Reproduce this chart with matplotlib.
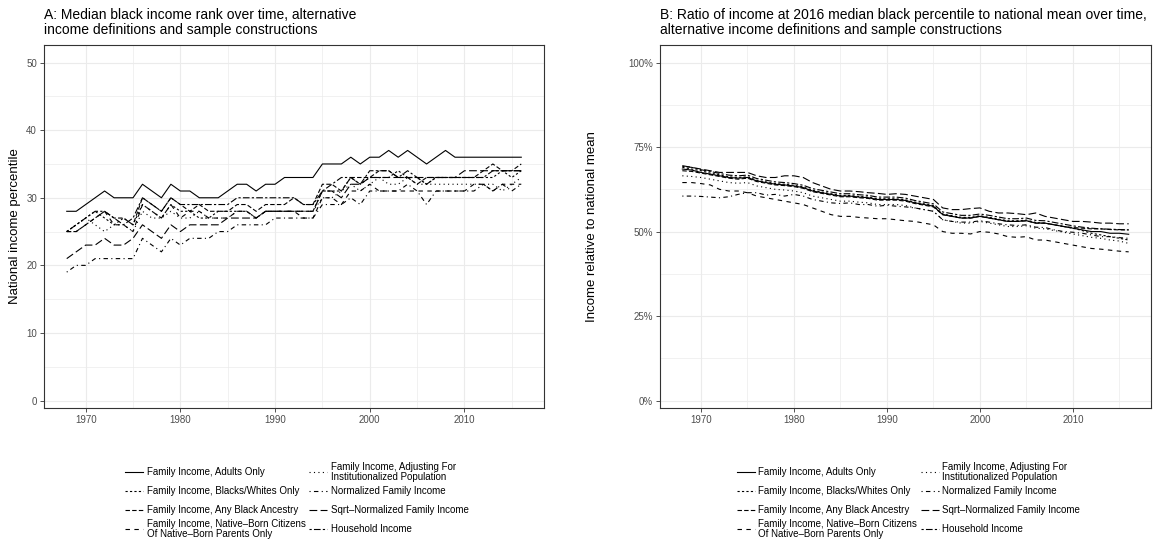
import numpy as np
import matplotlib
matplotlib.use('Agg')
import matplotlib.pyplot as plt
from matplotlib.lines import Line2D
from matplotlib.ticker import MultipleLocator, FuncFormatter

plt.rcParams['font.family'] = ['Liberation Sans', 'DejaVu Sans']

W, H = 1156, 546

years = list(range(1968, 2017))

labels = ['Family Income, Adults Only',
          'Family Income, Blacks/Whites Only',
          'Family Income, Any Black Ancestry',
          'Family Income, Native\u2013Born Citizens\nOf Native\u2013Born Parents Only',
          'Family Income, Adjusting For\nInstitutionalized Population',
          'Normalized Family Income',
          'Sqrt\u2013Normalized Family Income',
          'Household Income']

# ggplot default linetypes: solid, 22, 42, 44, 13, 1343, 73, 2262
dashes = [None, (2, 2), (4, 2), (4, 4), (1, 3), (1, 3, 4, 3), (7, 3), (2, 2, 6, 2)]

# Panel A: national income percentile of median black household
rank_adults = [28, 28, 29, 30, 31, 30, 30, 30, 32, 31, 30, 32, 31, 31, 30, 30, 30, 31,
               32, 32, 31, 32, 32, 33, 33, 33, 33, 35, 35, 35, 36, 35, 36, 36, 37, 36,
               37, 36, 35, 36, 37, 36, 36, 36, 36, 36, 36, 36, 36]
rank_bw = [25, 26, 27, 28, 27, 26, 27, 26, 29, 28, 27, 29, 28, 28, 27, 27, 28, 28,
           28, 28, 27, 28, 28, 28, 28, 28, 28, 31, 31, 31, 33, 32, 33, 33, 33, 34,
           33, 33, 32, 33, 33, 33, 33, 33, 33, 33, 34, 33, 34]
rank_anyblack = [25, 25, 26, 27, 28, 27, 27, 26, 30, 29, 28, 30, 29, 28, 29, 28, 28, 28,
                 29, 29, 28, 29, 29, 29, 30, 29, 29, 32, 32, 31, 33, 33, 33, 34, 34, 33,
                 33, 32, 33, 33, 33, 33, 33, 33, 34, 35, 34, 34, 35]
rank_native = [25, 25, 26, 27, 28, 26, 26, 25, 29, 28, 27, 29, 27, 28, 28, 27, 27, 27,
               28, 28, 27, 28, 28, 28, 28, 27, 27, 30, 30, 29, 31, 31, 32, 31, 31, 31,
               31, 31, 31, 31, 31, 31, 31, 32, 32, 31, 32, 32, 32]
rank_inst = [25, 26, 27, 26, 25, 26, 26, 25, 28, 27, 27, 28, 27, 27, 28, 27, 27, 27,
             28, 28, 27, 28, 28, 28, 28, 28, 28, 30, 30, 31, 32, 31, 32, 33, 32, 32,
             33, 32, 32, 32, 32, 32, 32, 32, 32, 32, 31, 32, 33]
rank_norm = [19, 20, 20, 21, 21, 21, 21, 21, 24, 23, 22, 24, 23, 24, 24, 24, 25, 25,
             26, 26, 26, 26, 27, 27, 27, 27, 27, 29, 29, 29, 30, 29, 31, 31, 31, 31,
             32, 31, 29, 31, 31, 31, 31, 31, 32, 31, 32, 31, 32]
rank_sqrt = [21, 22, 23, 23, 24, 23, 23, 24, 26, 25, 24, 26, 25, 26, 26, 26, 26, 27,
             27, 27, 27, 28, 28, 28, 28, 28, 28, 31, 31, 30, 32, 32, 33, 33, 33, 33,
             33, 33, 33, 33, 33, 33, 34, 34, 34, 34, 34, 34, 34]
rank_hh = [25, 26, 27, 28, 28, 27, 26, 27, 30, 29, 28, 30, 29, 29, 29, 29, 29, 29,
           30, 30, 30, 30, 30, 30, 30, 29, 29, 31, 32, 33, 33, 32, 34, 34, 34, 33,
           34, 33, 32, 33, 33, 33, 33, 33, 33, 34, 34, 34, 34]

# Panel B: income at 2016 median black percentile relative to national mean (%)
ratio_adults = [68.5, 68.2, 67.5, 67.0, 66.5, 66.0, 65.8, 66.0, 65.0, 64.5, 64.0, 63.8,
                63.5, 63.0, 62.0, 61.5, 61.0, 60.5, 60.5, 60.2, 60.0, 59.5, 59.5, 59.5,
                59.2, 58.5, 58.0, 57.5, 55.0, 54.5, 54.0, 54.0, 54.5, 54.0, 53.5, 53.0,
                53.0, 53.2, 52.5, 52.5, 52.0, 51.5, 51.0, 50.5, 50.0, 50.0, 49.5, 49.5, 49.2]
ratio_bw = [69.0, 68.5, 68.0, 67.3, 66.8, 66.2, 66.0, 66.2, 65.2, 64.7, 64.2, 64.0,
            63.7, 63.2, 62.2, 61.7, 61.2, 60.7, 60.7, 60.4, 60.2, 59.7, 59.7, 59.7,
            59.4, 58.7, 58.2, 57.7, 55.2, 54.7, 54.2, 54.2, 54.7, 54.2, 53.7, 53.2,
            53.2, 53.4, 52.7, 52.5, 52.0, 51.5, 51.0, 50.3, 49.5, 49.0, 48.5, 48.0, 47.5]
ratio_anyblack = [68.0, 67.8, 67.3, 66.8, 66.3, 65.8, 65.5, 65.8, 64.8, 64.3, 63.8, 63.6,
                  63.3, 62.8, 61.8, 61.3, 60.8, 60.3, 60.3, 60.0, 59.8, 59.3, 59.3, 59.3,
                  59.0, 58.3, 57.8, 57.3, 55.0, 54.5, 54.0, 54.0, 54.5, 54.0, 53.5, 53.0,
                  53.0, 53.2, 52.5, 52.5, 52.0, 51.5, 51.2, 51.0, 50.8, 50.8, 50.6, 50.5, 50.5]
ratio_native = [64.5, 64.5, 64.2, 63.8, 62.5, 62.0, 62.0, 61.5, 60.5, 60.0, 59.5, 59.0,
                58.5, 58.0, 57.0, 56.0, 55.0, 54.5, 54.5, 54.2, 54.0, 53.8, 53.8, 53.5,
                53.2, 53.0, 52.5, 52.0, 50.0, 49.5, 49.5, 49.3, 50.0, 49.8, 49.3, 48.5,
                48.3, 48.5, 47.5, 47.5, 47.0, 46.5, 46.0, 45.5, 45.0, 44.8, 44.5, 44.2, 44.0]
ratio_inst = [66.5, 66.3, 66.0, 65.5, 65.0, 64.5, 64.3, 64.5, 63.5, 63.0, 62.5, 62.3,
              62.0, 61.5, 60.5, 60.0, 59.5, 59.0, 59.0, 58.7, 58.5, 58.0, 58.0, 58.0,
              57.7, 57.0, 56.5, 56.0, 53.5, 53.0, 52.5, 52.5, 53.0, 52.5, 52.0, 51.5,
              51.5, 51.7, 51.0, 50.8, 50.3, 49.8, 49.3, 48.8, 48.3, 48.0, 47.5, 47.2, 46.5]
ratio_norm = [60.5, 60.5, 60.4, 60.2, 60.0, 60.3, 61.0, 61.5, 61.5, 60.8, 61.0, 60.5,
              61.0, 60.5, 59.5, 59.0, 58.5, 58.3, 58.5, 58.0, 58.0, 57.5, 57.8, 57.5,
              57.3, 57.0, 56.5, 56.0, 53.5, 53.0, 52.8, 52.8, 53.2, 52.8, 52.3, 52.0,
              51.8, 52.0, 51.3, 51.2, 50.5, 50.0, 49.8, 49.5, 49.0, 48.5, 48.5, 48.2, 48.0]
ratio_sqrt = [69.5, 69.0, 68.5, 68.0, 67.5, 67.5, 67.5, 67.5, 66.5, 66.0, 66.0, 66.5,
              66.5, 66.0, 64.5, 63.5, 62.5, 62.0, 62.0, 61.8, 61.5, 61.3, 61.0, 61.2,
              61.0, 60.5, 60.0, 59.5, 57.0, 56.5, 56.5, 56.8, 57.0, 56.0, 55.5, 55.5,
              55.3, 55.0, 55.5, 54.5, 54.0, 53.5, 53.0, 53.0, 52.8, 52.5, 52.5, 52.3, 52.3]
ratio_hh = [69.3, 69.0, 68.3, 67.8, 67.2, 66.7, 66.5, 66.7, 65.7, 65.2, 64.7, 64.5,
            64.2, 63.7, 62.7, 62.2, 61.7, 61.2, 61.2, 60.9, 60.7, 60.2, 60.2, 60.2,
            59.9, 59.2, 58.7, 58.2, 55.8, 55.3, 54.8, 54.8, 55.2, 54.8, 54.3, 53.8,
            53.8, 54.0, 53.3, 53.2, 52.7, 52.2, 51.7, 51.3, 51.0, 50.8, 50.7, 50.6, 50.5]

rank_series = [rank_adults, rank_bw, rank_anyblack, rank_native,
               rank_inst, rank_norm, rank_sqrt, rank_hh]
ratio_series = [ratio_adults, ratio_bw, ratio_anyblack, ratio_native,
                ratio_inst, ratio_norm, ratio_sqrt, ratio_hh]

LW = 0.8
GRID = '#EBEBEB'
TICK_COL = '#4D4D4D'


def style_line(line, d):
    if d is not None:
        line.set_dashes(d)


def style_axes(ax):
    ax.set_facecolor('white')
    for s in ax.spines.values():
        s.set_color('#333333')
        s.set_linewidth(0.8)
    ax.xaxis.set_major_locator(MultipleLocator(10))
    ax.xaxis.set_minor_locator(MultipleLocator(5))
    ax.grid(True, which='major', color=GRID, lw=0.8)
    ax.grid(True, which='minor', color=GRID, lw=0.5)
    ax.set_axisbelow(True)
    ax.tick_params(which='major', length=3, width=0.6, color='#333333',
                   labelsize=7, labelcolor=TICK_COL, pad=2)
    ax.tick_params(which='minor', length=0)
    ax.set_xlim(1965.6, 2018.4)


def draw_legend(fig, ax):
    # 2-column legend below the panel, aligned like ggplot's key grid
    bb = ax.get_position()
    cx = (bb.x0 + bb.x1) / 2 * W
    key_x = [-169, 15]
    text_x = [-147, 37]
    row_y = [472, 491, 510, 529]
    for i, (lab, d) in enumerate(zip(labels, dashes)):
        col, row = divmod(i, 4)
        y = 1 - row_y[row] / H
        x0 = (cx + key_x[col]) / W
        x1 = (cx + key_x[col] + 18) / W
        ln = Line2D([x0, x1], [y, y], transform=fig.transFigure, color='black', lw=LW)
        style_line(ln, d)
        fig.add_artist(ln)
        fig.text((cx + text_x[col]) / W, y, lab, fontsize=7, va='center', ha='left',
                 linespacing=0.95, color='black')


fig = plt.figure(figsize=(W / 100, H / 100), dpi=100)
axA = fig.add_axes([44 / W, 1 - 408 / H, 500 / W, 363 / H])
axB = fig.add_axes([660 / W, 1 - 408 / H, 491 / W, 363 / H])

for vals, d in zip(rank_series, dashes):
    ln, = axA.plot(years, vals, color='black', lw=LW)
    style_line(ln, d)
style_axes(axA)
axA.set_ylim(-1.1, 52.6)
axA.yaxis.set_major_locator(MultipleLocator(10))
axA.yaxis.set_minor_locator(MultipleLocator(5))
axA.set_ylabel('National income percentile', fontsize=9.5)
axA.yaxis.set_label_coords(-0.046, 0.5)
axA.set_title('A: Median black income rank over time, alternative\n'
              'income definitions and sample constructions',
              loc='left', fontsize=10, pad=8, linespacing=1.05)

for vals, d in zip(ratio_series, dashes):
    ln, = axB.plot(years, np.array(vals) / 100, color='black', lw=LW)
    style_line(ln, d)
style_axes(axB)
axB.set_ylim(-0.022, 1.052)
axB.yaxis.set_major_locator(MultipleLocator(0.25))
axB.yaxis.set_minor_locator(MultipleLocator(0.125))
axB.yaxis.set_major_formatter(FuncFormatter(lambda v, p: '%d%%' % round(v * 100)))
axB.set_ylabel('Income relative to national mean', fontsize=9.5)
axB.yaxis.set_label_coords(-0.126, 0.5)
axB.set_title('B: Ratio of income at 2016 median black percentile to national mean over time,\n'
              'alternative income definitions and sample constructions',
              loc='left', fontsize=10, pad=8, linespacing=1.05)

draw_legend(fig, axA)
draw_legend(fig, axB)

fig.savefig('out.png', dpi=100, facecolor='white')
